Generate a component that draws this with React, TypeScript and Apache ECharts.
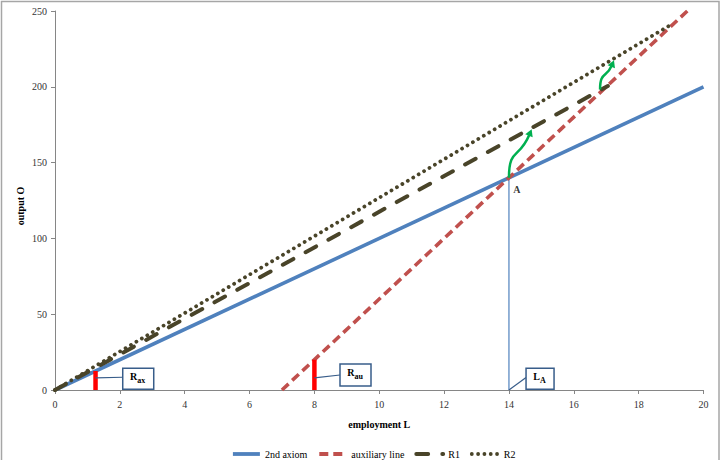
import React, { useEffect, useRef } from "react";
import * as echarts from "echarts";

// Straight relations: employment L -> output O (start / end points)
const AXIOM_L = [0, 20];
const AXIOM_O = [0, 200];
const AUX_L = [7, 19.5];
const AUX_O = [0, 250];
const R1_L = [0, 17.05];
const R1_O = [0, 200.5];
const R2_L = [0, 19];
const R2_O = [0, 241];

// Point A where the 2nd axiom meets the auxiliary line
const A_L = 14;
const A_O = 140;

// Thick red markers (Rax on the axiom line, Rau on the auxiliary line)
const MARKER_L = [1.25, 8];
const MARKER_O = [12.5, 20];

// Green growth arrows: start and tip
const ARROW_FROM = [
  [14, 140],
  [16.81, 198.3],
];
const ARROW_TO = [
  [14.7, 172],
  [17.24, 217.5],
];

// Callout labels and the points they refer to
const CALLOUT_MAIN = ["R", "R", "L"];
const CALLOUT_SUB = ["ax", "au", "A"];
const CALLOUT_L = [1.25, 8, 14];
const CALLOUT_O = [8, 8, 0];
// box layout in pixels relative to the anchor: dx, dyTop, width, height, leader end dy
const CALLOUT_BOX = [
  [27.2, -9.6, 31, 21, -0.6],
  [25.6, -13.9, 31, 22, -2.9],
  [17.1, -21.7, 28, 21, -12.5],
];

const X_MIN = 0, X_MAX = 20, X_STEP = 2;
const Y_MIN = 0, Y_MAX = 250, Y_STEP = 50;

const SERIF = '"Liberation Serif", "Times New Roman", serif';
const BLUE = "#4F81BD";
const RED = "#C0504D";
const OLIVE = "#494429";
const GREEN = "#00B050";
const CALLOUT_EDGE = "#385D8A";

const pairs = (xs: number[], ys: number[]) => xs.map((x, i) => [x, ys[i]]);

let measureCtx: CanvasRenderingContext2D | null = null;
function textWidth(text: string, font: string) {
  if (!measureCtx) measureCtx = document.createElement("canvas").getContext("2d");
  if (!measureCtx) return text.length * 6;
  measureCtx.font = font;
  return measureCtx.measureText(text).width;
}

function buildOption(): echarts.EChartsOption {
  const mainFont = `bold 10px ${SERIF}`;
  const subFont = `bold 8px ${SERIF}`;

  return {
    animation: false,
    backgroundColor: "#ffffff",
    graphic: [
      {
        type: "rect",
        silent: true,
        shape: { x: 1.5, y: 1.5, width: 717.5, height: 470 },
        style: { fill: "none", stroke: "#a6a6a6", lineWidth: 1.5 },
      },
      {
        type: "text",
        silent: true,
        x: 20,
        y: 206,
        rotation: Math.PI / 2,
        style: {
          text: "output O",
          font: `bold 10px ${SERIF}`,
          fill: "#000",
          align: "center",
          verticalAlign: "middle",
        },
      },
    ],
    grid: { left: 55, right: 23.5, top: 11, bottom: 70 },
    legend: {
      data: ["2nd axiom", "auxiliary line", "R1", "R2"],
      left: 226,
      top: 444,
      itemWidth: 27,
      itemHeight: 10,
      itemGap: 10,
      itemStyle: { opacity: 0 },
      lineStyle: { width: 3.8 },
      textStyle: { fontFamily: SERIF, fontSize: 10, color: "#000" },
    },
    xAxis: {
      type: "value",
      min: X_MIN,
      max: X_MAX,
      interval: X_STEP,
      name: "employment L",
      nameLocation: "middle",
      nameGap: 29,
      nameTextStyle: { fontFamily: SERIF, fontSize: 10, fontWeight: "bold", color: "#000" },
      axisLine: { show: true, lineStyle: { color: "#868686", width: 1 } },
      axisTick: { show: true, length: 4, lineStyle: { color: "#868686" } },
      axisLabel: { fontFamily: SERIF, fontSize: 10, color: "#333", margin: 9 },
      splitLine: { show: false },
    },
    yAxis: {
      type: "value",
      min: Y_MIN,
      max: Y_MAX,
      interval: Y_STEP,
      axisLine: { show: true, lineStyle: { color: "#868686", width: 1 } },
      axisTick: { show: true, length: 4, lineStyle: { color: "#868686" } },
      axisLabel: { fontFamily: SERIF, fontSize: 10, color: "#333", margin: 8 },
      splitLine: { show: false },
    },
    series: [
      {
        name: "L_A drop",
        type: "line",
        data: [
          [A_L, 0],
          [A_L, A_O],
        ],
        symbol: "none",
        lineStyle: { color: BLUE, width: 1.2 },
        z: 1,
        silent: true,
      },
      {
        name: "2nd axiom",
        type: "line",
        data: pairs(AXIOM_L, AXIOM_O),
        symbol: "none",
        lineStyle: { color: BLUE, width: 3.6 },
        itemStyle: { color: BLUE },
        z: 2,
      },
      {
        name: "auxiliary line",
        type: "line",
        data: pairs(AUX_L, AUX_O),
        symbol: "none",
        lineStyle: { color: RED, width: 3.6, type: [9, 5], cap: "butt" },
        itemStyle: { color: RED },
        z: 3,
      },
      {
        name: "R1",
        type: "line",
        data: pairs(R1_L, R1_O),
        symbol: "none",
        lineStyle: { color: OLIVE, width: 4, type: [12, 14], cap: "round" },
        itemStyle: { color: OLIVE },
        z: 4,
      },
      {
        name: "R2",
        type: "line",
        data: pairs(R2_L, R2_O),
        symbol: "none",
        lineStyle: { color: OLIVE, width: 3.8, type: [0.01, 6.3], cap: "round" },
        itemStyle: { color: OLIVE },
        z: 5,
      },
      // red markers
      ...MARKER_L.map((l, i) => ({
        name: "marker" + i,
        type: "line" as const,
        data: [
          [l, 0],
          [l, MARKER_O[i]],
        ],
        symbol: "none",
        lineStyle: { color: "#FF0000", width: 4.5 },
        z: 6,
        silent: true,
      })),
      // point A label
      {
        name: "A",
        type: "scatter",
        data: [[A_L, A_O]],
        symbolSize: 0,
        silent: true,
        label: {
          show: true,
          formatter: "A",
          position: "inside",
          offset: [8, 12],
          fontFamily: SERIF,
          fontSize: 10,
          fontWeight: "bold",
          color: "#000",
        },
        z: 7,
      },
      // growth arrows
      {
        name: "growth",
        type: "custom",
        coordinateSystem: "cartesian2d",
        clip: false,
        silent: true,
        z: 8,
        data: ARROW_FROM.map((f, i) => [f[0], f[1], ARROW_TO[i][0], ARROW_TO[i][1]]),
        renderItem: (_params: any, api: any) => {
          const p0 = api.coord([api.value(0), api.value(1)]);
          const tip = api.coord([api.value(2), api.value(3)]);
          const dx = tip[0] - p0[0];
          const dy = tip[1] - p0[1];
          const c1 = [p0[0], p0[1] + 0.62 * dy];
          const c2 = [p0[0] + 0.45 * dx, p0[1] + 0.38 * dy];
          let ux = tip[0] - c2[0];
          let uy = tip[1] - c2[1];
          const len = Math.hypot(ux, uy) || 1;
          ux /= len;
          uy /= len;
          const head = 7;
          const half = 4;
          const base = [tip[0] - ux * head, tip[1] - uy * head];
          const px = -uy;
          const py = ux;
          return {
            type: "group",
            children: [
              {
                type: "bezierCurve",
                shape: {
                  x1: p0[0],
                  y1: p0[1],
                  cpx1: c1[0],
                  cpy1: c1[1],
                  cpx2: c2[0],
                  cpy2: c2[1],
                  x2: base[0] + ux,
                  y2: base[1] + uy,
                },
                style: { stroke: GREEN, lineWidth: 2.5, fill: "none" },
              },
              {
                type: "polygon",
                shape: {
                  points: [
                    [tip[0], tip[1]],
                    [base[0] + px * half, base[1] + py * half],
                    [base[0] - px * half, base[1] - py * half],
                  ],
                },
                style: { fill: GREEN },
              },
            ],
          };
        },
      },
      // callouts
      {
        name: "callouts",
        type: "custom",
        coordinateSystem: "cartesian2d",
        clip: false,
        silent: true,
        z: 9,
        data: CALLOUT_L.map((l, i) => [l, CALLOUT_O[i]]),
        renderItem: (params: any, api: any) => {
          const i = params.dataIndex;
          const p = api.coord([api.value(0), api.value(1)]);
          const [dx, dyTop, w, h, ly] = CALLOUT_BOX[i];
          const bx = p[0] + dx;
          const by = p[1] + dyTop;
          const mx = bx + 7.3;
          const mw = textWidth(CALLOUT_MAIN[i], mainFont);
          return {
            type: "group",
            children: [
              {
                type: "line",
                shape: { x1: p[0], y1: p[1], x2: bx, y2: p[1] + ly },
                style: { stroke: CALLOUT_EDGE, lineWidth: 1.2 },
              },
              {
                type: "rect",
                shape: { x: bx, y: by, width: w, height: h },
                style: { fill: "#ffffff", stroke: CALLOUT_EDGE, lineWidth: 1.5 },
              },
              {
                type: "text",
                x: mx,
                y: by + h / 2 + 3,
                style: {
                  text: CALLOUT_MAIN[i],
                  font: mainFont,
                  fill: "#000",
                  textAlign: "left",
                  textVerticalAlign: "bottom",
                } as any,
              },
              {
                type: "text",
                x: mx + mw,
                y: by + h / 2 + 5.3,
                style: {
                  text: CALLOUT_SUB[i],
                  font: subFont,
                  fill: "#000",
                  textAlign: "left",
                  textVerticalAlign: "bottom",
                } as any,
              },
            ],
          };
        },
      },
    ] as any,
  };
}

export default function App() {
  const ref = useRef<HTMLDivElement>(null);
  useEffect(() => {
    if (!ref.current) return;
    const chart = echarts.init(ref.current, null, { renderer: "svg" });
    chart.setOption(buildOption());
    return () => chart.dispose();
  }, []);
  return (
    <div
      ref={ref}
      style={{ position: "fixed", left: 0, top: 0, width: 727, height: 460, background: "#fff" }}
    />
  );
}
